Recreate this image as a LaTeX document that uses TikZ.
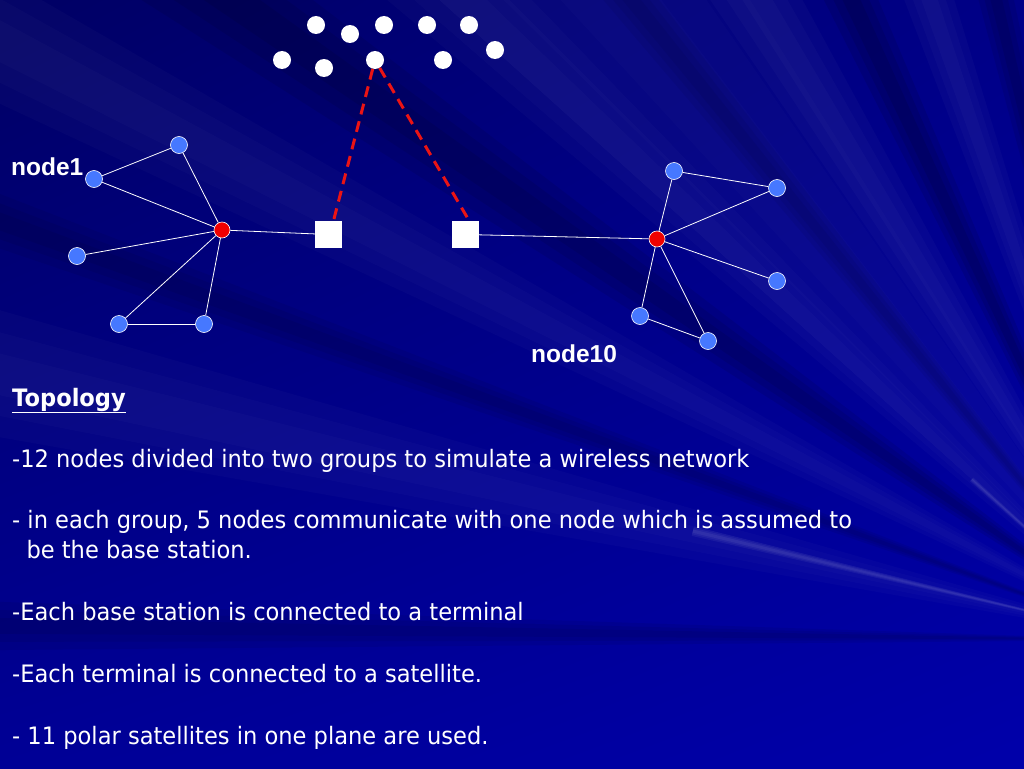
\documentclass[tikz,border=0pt]{standalone}
\usepackage{fontspec}
\usetikzlibrary{shadings}
\setmainfont{DejaVu Sans}[FakeStretch=0.94]
\newfontfamily\labelfont{Liberation Sans}
\definecolor{bgul}{RGB}{0,0,100}
\definecolor{bgur}{RGB}{0,0,135}
\definecolor{bgll}{RGB}{0,0,150}
\definecolor{bglr}{RGB}{0,0,170}
\definecolor{nodeblue}{RGB}{70,120,255}
\definecolor{basered}{RGB}{240,0,0}
\definecolor{dashred}{RGB}{235,20,20}
\tikzset{
  blue node/.style={circle,fill=nodeblue,draw=white,line width=0.6pt,minimum size=17pt,inner sep=0pt},
  base node/.style={circle,fill=basered,draw=white,line width=0.6pt,minimum size=16pt,inner sep=0pt},
  sat/.style={circle,fill=white,minimum size=18pt,inner sep=0pt},
  terminal/.style={rectangle,fill=white,minimum size=27pt,inner sep=0pt},
  link/.style={draw=white,line width=0.8pt},
  satlink/.style={draw=dashred,line width=3pt,dash pattern=on 11pt off 7pt},
  bodytext/.style={anchor=base west,inner sep=0pt,text=white,font=\fontsize{24}{28}\selectfont},
  namelabel/.style={anchor=base west,inner sep=0pt,text=white,font=\labelfont\bfseries\fontsize{24.5}{28}\selectfont},
}
\begin{document}
\begin{tikzpicture}[x=1pt,y=-1pt]
\useasboundingbox (0,0) rectangle (1024,768);
% background
\shade[upper left=bgul,upper right=bgur,lower left=bgll,lower right=bglr] (0,0) rectangle (1024,768);
\coordinate (F) at (1150,640);
\begin{scope}
\clip (0,0) rectangle (1024,768);
\foreach \m/\w/\col/\o/\r in {
  180.7/1.2/black/0.06/2500,
  193/3/white/0.018/2500,
  200/1.2/black/0.06/2500,
  207.5/2.5/white/0.018/2500,
  214.9/2.5/black/0.08/2500,
  230/8/white/0.015/2500,
  223/3/white/0.02/2500,
  231/1.5/black/0.05/2500,
  238.5/3/white/0.022/2500,
  245/2/black/0.09/2500,
  251/2/white/0.022/2500,
  256.5/1.5/black/0.08/2500,
  262.5/1.5/white/0.02/2500,
  193.4/0.6/white/0.05/470,
  222/0.6/white/0.05/240}
{
  \foreach \k in {1,0.66,0.33}{
    \fill[\col,opacity=\o] (F) -- ++({\m-\w*\k}:\r) arc[start angle={\m-\w*\k},end angle={\m+\w*\k},radius=\r] -- cycle;
  }
}
\end{scope}
% satellites
\node[sat] (s1) at (316,25) {};
\node[sat] (s2) at (350,34) {};
\node[sat] (s3) at (384,25) {};
\node[sat] (s4) at (427,25) {};
\node[sat] (s5) at (469,25) {};
\node[sat] (s6) at (282,60) {};
\node[sat] (s7) at (324,68) {};
\node[sat] (s8) at (375,60) {};
\node[sat] (s9) at (443,60) {};
\node[sat] (s10) at (495,50) {};
% terminals
\node[terminal] (tL) at (328.5,234.5) {};
\node[terminal] (tR) at (465,234.5) {};
% left group
\node[base node] (bL) at (222,230) {};
\node[blue node] (l1) at (179,145) {};
\node[blue node] (l2) at (94,179) {};
\node[blue node] (l3) at (77,256) {};
\node[blue node] (l4) at (119,324) {};
\node[blue node] (l5) at (204,324) {};
% right group
\node[base node] (bR) at (657,239) {};
\node[blue node] (r1) at (674,171) {};
\node[blue node] (r2) at (777,188) {};
\node[blue node] (r3) at (777,281) {};
\node[blue node] (r4) at (640,316) {};
\node[blue node] (r5) at (708,341) {};
% links
\draw[link] (l2) -- (l1);
\draw[link] (l4) -- (l5);
\foreach \n in {l1,l2,l3,l4,l5} \draw[link] (bL) -- (\n);
\draw[link] (bL) -- (tL);
\draw[link] (r1) -- (r2);
\draw[link] (r4) -- (r5);
\foreach \n in {r1,r2,r3,r4,r5} \draw[link] (bR) -- (\n);
\draw[link] (bR) -- (tR);
\draw[satlink] (s8) -- (tL.70);
\draw[satlink] (s8) -- (tR.73);
% labels
\node[namelabel] (n1) at (11,175) {node1};
\node[namelabel] (n10) at (531,362) {node10};
% body text
\node[bodytext,font=\bfseries\fontsize{24}{28}\selectfont] (t0) at (12,406) {\underline{Topology}};
\node[bodytext] (t1) at (12,467) {-12 nodes divided into two groups to simulate a wireless network};
\node[bodytext] (t2) at (12,528) {- in each group, 5 nodes communicate with one node which is assumed to};
\node[bodytext] (t3) at (12,558) {\ \ be the base station.};
\node[bodytext] (t4) at (12,620) {-Each base station is connected to a terminal};
\node[bodytext] (t5) at (12,682) {-Each terminal is connected to a satellite.};
\node[bodytext] (t6) at (12,744) {- 11 polar satellites in one plane are used.};
\end{tikzpicture}
\end{document}
